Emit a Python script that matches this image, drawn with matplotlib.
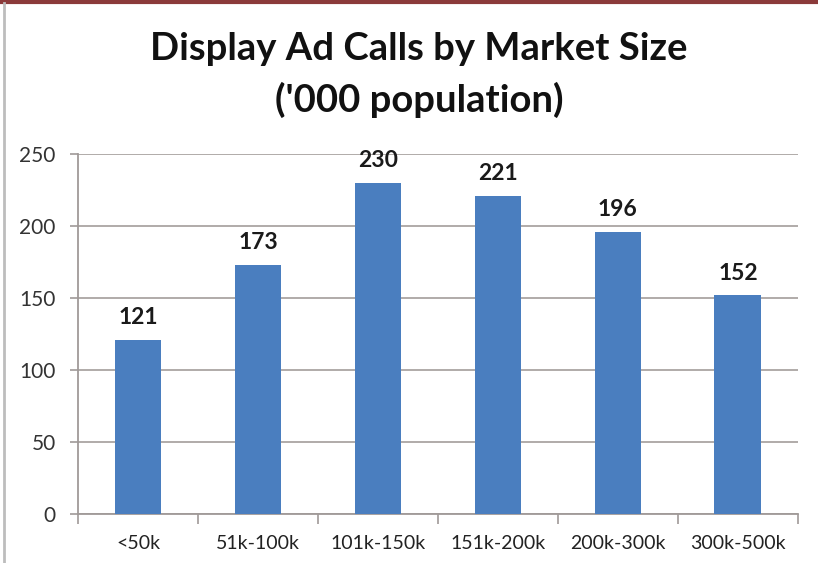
import matplotlib
matplotlib.use("Agg")
import matplotlib.pyplot as plt
from matplotlib.lines import Line2D

categories = ["<50k", "51k-100k", "101k-150k", "151k-200k", "200k-300k", "300k-500k"]
calls = [121, 173, 230, 221, 196, 152]
y_ticks = [0, 50, 100, 150, 200, 250]

plt.rcParams["font.family"] = ["Lato", "DejaVu Sans"]

fig = plt.figure(figsize=(8.18, 5.63), dpi=100)
ax = fig.add_axes([0.0954, 0.087, 0.880, 0.6395])

x = list(range(len(categories)))
ax.bar(x, calls, width=0.39, color="#4a7ebf", zorder=3)

for xi, v in zip(x, calls):
    ax.text(xi, v + 8, str(v), ha="center", va="bottom",
            fontsize=16.5, fontweight="bold", color="#1a1a1a")

ax.set_xlim(-0.5, len(categories) - 0.5)
ax.set_ylim(0, 250)
ax.set_yticks(y_ticks)
ax.set_xticks(x)
ax.set_xticklabels(categories, fontsize=14, color="#222222")
ax.tick_params(axis="y", labelsize=15, labelcolor="#333333", length=6,
               color="#a09a98", width=1.2, pad=10)
ax.tick_params(axis="x", length=0, pad=15)
# category boundary ticks below the axis
ax.set_xticks([i - 0.5 for i in range(len(categories) + 1)], minor=True)
ax.tick_params(axis="x", which="minor", length=7, color="#a09a98", width=1.2)

ax.yaxis.grid(True, color="#aaa5a3", linewidth=1.3, zorder=0)
for s in ["top", "right"]:
    ax.spines[s].set_visible(False)
ax.spines["left"].set_color("#a09a98")
ax.spines["left"].set_linewidth(1.3)
ax.spines["bottom"].set_color("#a09a98")
ax.spines["bottom"].set_linewidth(1.3)

fig.text(0.512, 0.913, "Display Ad Calls by Market Size", ha="center", va="center",
         fontsize=27.5, fontweight="bold", color="#111111")
fig.text(0.512, 0.822, "('000 population)", ha="center", va="center",
         fontsize=27.5, fontweight="bold", color="#111111")

# frame edges of the chart area
fig.add_artist(Line2D([0, 1], [0.997, 0.997], transform=fig.transFigure,
                      color="#8b3a3a", linewidth=3))
fig.add_artist(Line2D([0.0055, 0.0055], [0, 0.995], transform=fig.transFigure,
                      color="#bdbdbd", linewidth=2))

fig.savefig("out.png", dpi=100)
